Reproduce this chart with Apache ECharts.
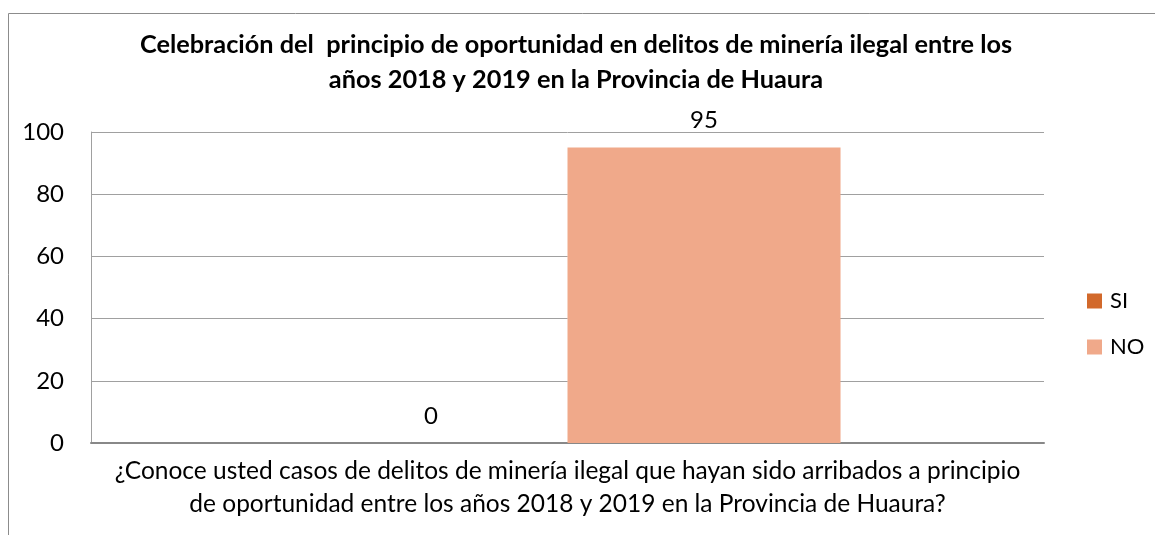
<!DOCTYPE html>
<html>
<head>
<meta charset="utf-8">
<script src="https://cdn.jsdelivr.net/npm/echarts@6/dist/echarts.min.js"></script>
<style>
  html, body { margin: 0; padding: 0; background: #fff; }
  #main { width: 1155px; height: 535px; }
</style>
</head>
<body>
<div id="main"></div>
<script>
var categories = ['¿Conoce usted casos de delitos de minería ilegal que hayan sido arribados a principio\nde oportunidad entre los años 2018 y 2019 en la Provincia de Huaura?'];
var seriesNames = ['SI', 'NO'];
var siValues = [0];
var noValues = [95];
var yTicks = [0, 20, 40, 60, 80, 100];

var font = 'Lato, "Open Sans", sans-serif';
var chart = echarts.init(document.getElementById('main'));

var option = {
  animation: false,
  title: {
    text: 'Celebración del  principio de oportunidad en delitos de minería ilegal entre los\naños 2018 y 2019 en la Provincia de Huaura',
    left: 571,
    top: 22,
    textAlign: 'center',
    textStyle: { fontFamily: font, fontSize: 25.3, fontWeight: 'bold', color: '#000', lineHeight: 35 }
  },
  graphic: [{
    type: 'rect',
    shape: { x: 8.5, y: 13.5, width: 1200, height: 600 },
    style: { fill: 'none', stroke: '#8c8c8c', lineWidth: 1 },
    silent: true
  }],
  legend: {
    orient: 'vertical',
    left: 1082,
    top: 285,
    itemWidth: 15,
    itemHeight: 15,
    itemGap: 24,
    icon: 'rect',
    data: seriesNames,
    textStyle: { fontFamily: font, fontSize: 22, color: '#000', padding: [0, 0, 0, 3] }
  },
  grid: { left: 91, right: 111, top: 132, bottom: 92 },
  xAxis: {
    type: 'category',
    data: categories,
    axisTick: { show: false },
    axisLine: { lineStyle: { color: '#888', width: 2 } },
    axisLabel: { fontFamily: font, fontSize: 24.5, color: '#000', lineHeight: 33, margin: 12 }
  },
  yAxis: {
    type: 'value',
    min: yTicks[0],
    max: yTicks[yTicks.length - 1],
    interval: 20,
    axisLine: { show: true, lineStyle: { color: '#a0a0a0' } },
    axisTick: { show: false },
    splitLine: { lineStyle: { color: '#a0a0a0' } },
    axisLabel: { fontFamily: font, fontSize: 24, color: '#000', margin: 27 }
  },
  series: [{
    name: seriesNames[0],
    type: 'bar',
    data: siValues,
    barGap: '0%',
    barCategoryGap: '42.7%',
    itemStyle: { color: '#D2692B' },
    label: { show: true, position: 'top', distance: 15, fontFamily: font, fontSize: 24, color: '#000' }
  }, {
    name: seriesNames[1],
    type: 'bar',
    data: noValues,
    barGap: '0%',
    barCategoryGap: '42.7%',
    itemStyle: { color: '#F0A98A' },
    label: { show: true, position: 'top', distance: 15, fontFamily: font, fontSize: 24, color: '#000' }
  }]
};
chart.setOption(option);
</script>
</body>
</html>
